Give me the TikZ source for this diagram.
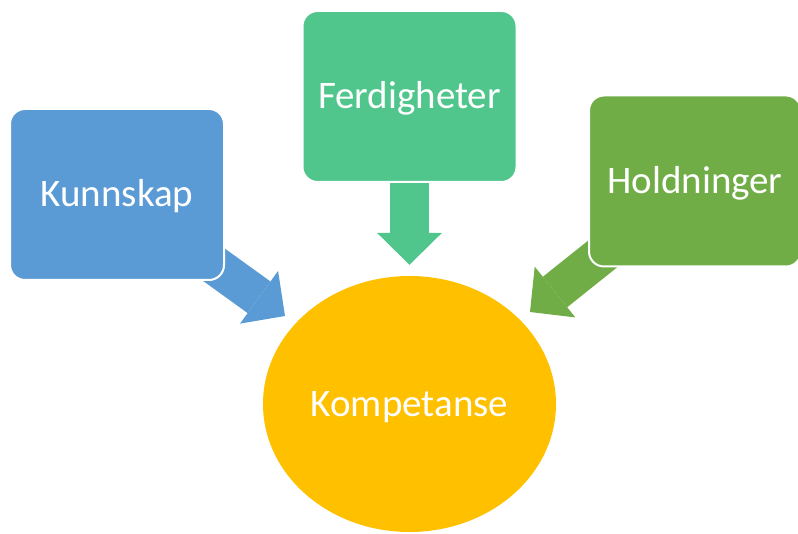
\documentclass[tikz,border=0pt]{standalone}
\usepackage{fontspec}
\setmainfont{Carlito}
\usetikzlibrary{shapes.geometric,arrows.meta,backgrounds}
\definecolor{kunnskapblue}{HTML}{5B9BD5}
\definecolor{ferdighetgreen}{HTML}{50C68C}
\definecolor{holdninggreen}{HTML}{70AD47}
\definecolor{kompetanseyellow}{HTML}{FFC000}

\begin{document}
\begin{tikzpicture}[x=1pt,y=1pt,
    box/.style={rectangle, rounded corners=15pt, draw=white, line width=2pt,
      minimum width=214pt, minimum height=171pt, inner sep=0pt, text=white,
      font=\fontsize{39}{47}\selectfont, text height=25pt, text depth=0pt},
    fatarrow/.style={line width=39pt, -{Triangle[width=65pt,length=32pt,line width=0pt]}}]
  \useasboundingbox (0,0) rectangle (798,533);

  \node[box, fill=kunnskapblue] (kunnskap) at (117,338.5) {Kunnskap};
  \node[box, fill=ferdighetgreen] (ferdigheter) at (409.5,436.5) {Ferdigheter};
  \node[box, fill=holdninggreen, minimum width=212pt] (holdninger) at (695,352) {Holdninger};

  \node[ellipse, fill=kompetanseyellow, minimum width=293pt, minimum height=256pt,
    inner sep=0pt, text=white, font=\fontsize{39}{47}\selectfont,
    text height=25pt, text depth=0pt] (kompetanse) at (409.5,129) {Kompetanse};

  \coordinate (kunnskaptip) at (285,217);
  \coordinate (ferdighettip) at ([yshift=11pt]kompetanse.north);
  \coordinate (holdningtip) at (530,221);

  \begin{scope}[on background layer]
    \draw[fatarrow, kunnskapblue] ([shift={(-19pt,22pt)}]kunnskap.south east) -- (kunnskaptip);
    \draw[fatarrow, ferdighetgreen] ([yshift=12pt]ferdigheter.south) -- (ferdighettip);
    \draw[fatarrow, holdninggreen] ([shift={(24pt,21pt)}]holdninger.south west) -- (holdningtip);
  \end{scope}
\end{tikzpicture}
\end{document}
